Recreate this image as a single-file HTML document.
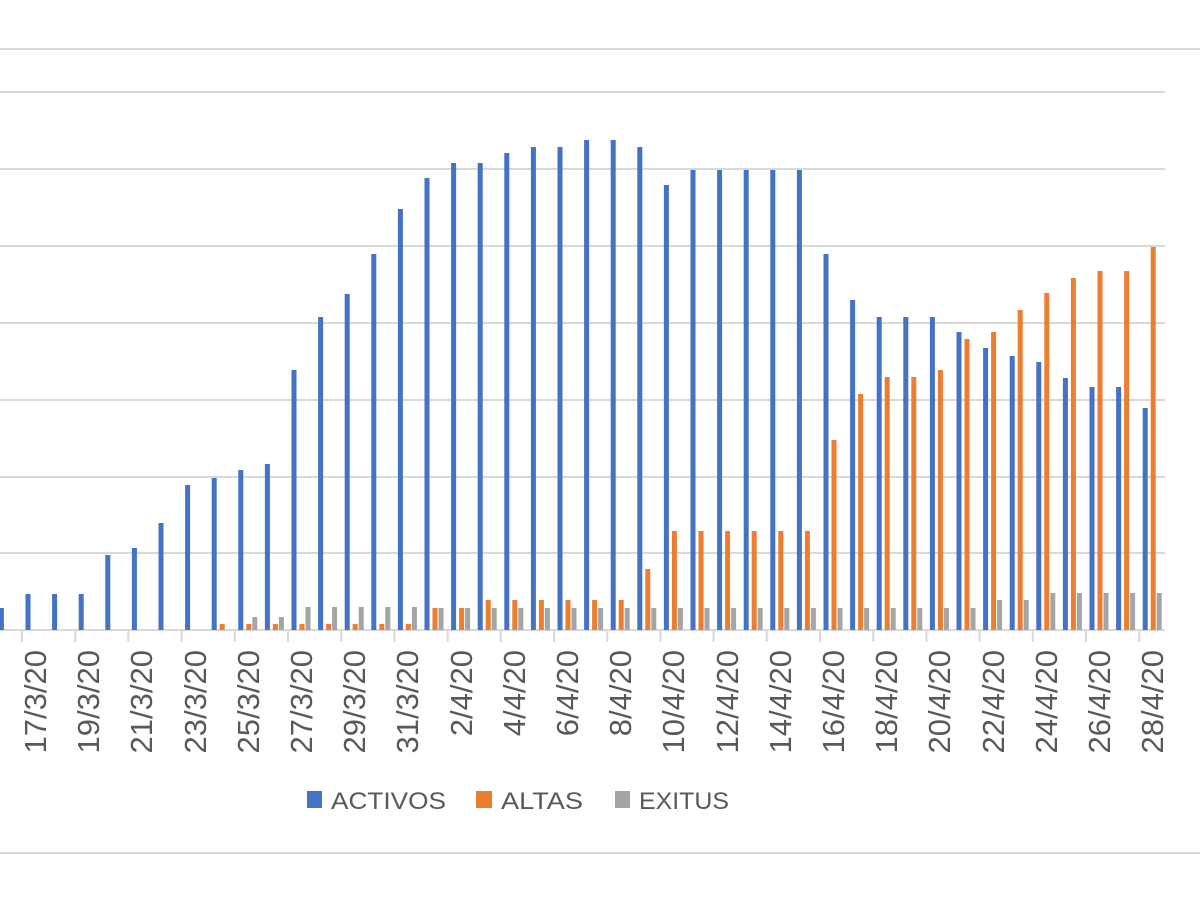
<!DOCTYPE html>
<html><head><meta charset="utf-8"><style>
html,body{margin:0;padding:0;background:#fff;}
svg{display:block;font-family:"Liberation Sans",sans-serif;}
</style></head><body>
<svg id="s" width="1200" height="900" viewBox="0 0 1200 900" xmlns="http://www.w3.org/2000/svg">
<line x1="0" y1="49" x2="1200" y2="49" stroke="#d9d9d9" stroke-width="2"/>
<line x1="0" y1="853" x2="1200" y2="853" stroke="#d9d9d9" stroke-width="2"/>
<g stroke="#d9d9d9" stroke-width="2">
<line x1="0" y1="92" x2="1165" y2="92"/>
<line x1="0" y1="169" x2="1165" y2="169"/>
<line x1="0" y1="246" x2="1165" y2="246"/>
<line x1="0" y1="323" x2="1165" y2="323"/>
<line x1="0" y1="400" x2="1165" y2="400"/>
<line x1="0" y1="477" x2="1165" y2="477"/>
<line x1="0" y1="553" x2="1165" y2="553"/>
<line x1="0" y1="630" x2="1165" y2="630"/>
</g>
<g id="ticks" stroke="#d9d9d9" stroke-width="2"></g>
<g id="bars"></g>
<g font-size="31" fill="#595959" text-anchor="end">
<text transform="translate(46,650) rotate(-90)">17/3/20</text>
<text transform="translate(99,650) rotate(-90)">19/3/20</text>
<text transform="translate(152,650) rotate(-90)">21/3/20</text>
<text transform="translate(206,650) rotate(-90)">23/3/20</text>
<text transform="translate(259,650) rotate(-90)">25/3/20</text>
<text transform="translate(312,650) rotate(-90)">27/3/20</text>
<text transform="translate(365,650) rotate(-90)">29/3/20</text>
<text transform="translate(418,650) rotate(-90)">31/3/20</text>
<text transform="translate(472,650) rotate(-90)">2/4/20</text>
<text transform="translate(525,650) rotate(-90)">4/4/20</text>
<text transform="translate(578,650) rotate(-90)">6/4/20</text>
<text transform="translate(631,650) rotate(-90)">8/4/20</text>
<text transform="translate(684,650) rotate(-90)">10/4/20</text>
<text transform="translate(738,650) rotate(-90)">12/4/20</text>
<text transform="translate(791,650) rotate(-90)">14/4/20</text>
<text transform="translate(844,650) rotate(-90)">16/4/20</text>
<text transform="translate(897,650) rotate(-90)">18/4/20</text>
<text transform="translate(950,650) rotate(-90)">20/4/20</text>
<text transform="translate(1004,650) rotate(-90)">22/4/20</text>
<text transform="translate(1057,650) rotate(-90)">24/4/20</text>
<text transform="translate(1110,650) rotate(-90)">26/4/20</text>
<text transform="translate(1163,650) rotate(-90)">28/4/20</text>
</g>
<g font-size="24" fill="#595959">
<rect x="307" y="791" width="15" height="17" fill="#4472c4"/>
<text x="331" y="809" textLength="115" lengthAdjust="spacingAndGlyphs">ACTIVOS</text>
<rect x="476" y="791" width="16" height="17" fill="#ed7d31"/>
<text x="501" y="809" textLength="82" lengthAdjust="spacingAndGlyphs">ALTAS</text>
<rect x="615" y="791" width="15" height="17" fill="#a5a5a5"/>
<text x="639" y="809" textLength="90" lengthAdjust="spacingAndGlyphs">EXITUS</text>
</g>
</svg>
<script>
var act=[608,594,594,594,555,548,523,485,478,470,464,370,317,294,254,209,178,163,163,153,147,147,140,140,147,185,170,170,170,170,170,254,300,317,317,317,332,348,356,362,378,387,387,408];
var alt=[630,630,630,630,630,630,630,630,624,624,624,624,624,624,624,624,608,608,600,600,600,600,600,600,569,531,531,531,531,531,531,440,394,377,377,370,339,332,310,293,278,271,271,247];
var ex=[630,630,630,630,630,630,630,630,630,617,617,607,607,607,607,607,608,608,608,608,608,608,608,608,608,608,608,608,608,608,608,608,608,608,608,608,608,600,600,593,593,593,593,593];
var NS="http://www.w3.org/2000/svg",b=document.getElementById("bars"),t=document.getElementById("ticks");
function r(x,y,c){if(y>=630)return;var e=document.createElementNS(NS,"rect");e.setAttribute("x",x);e.setAttribute("y",y);e.setAttribute("width",5);e.setAttribute("height",630-y);e.setAttribute("fill",c);b.appendChild(e);}
for(var i=0;i<44;i++){var s=22+(i-1)*26.6;r(s+3.5,act[i],"#4472c4");r(s+11.5,alt[i],"#ed7d31");r(s+17.5,ex[i],"#a5a5a5");}
for(var k=0;k<22;k++){var x=22+k*53.2;var l=document.createElementNS(NS,"line");l.setAttribute("x1",x);l.setAttribute("x2",x);l.setAttribute("y1",630);l.setAttribute("y2",642);t.appendChild(l);}
</script>
</body></html>
